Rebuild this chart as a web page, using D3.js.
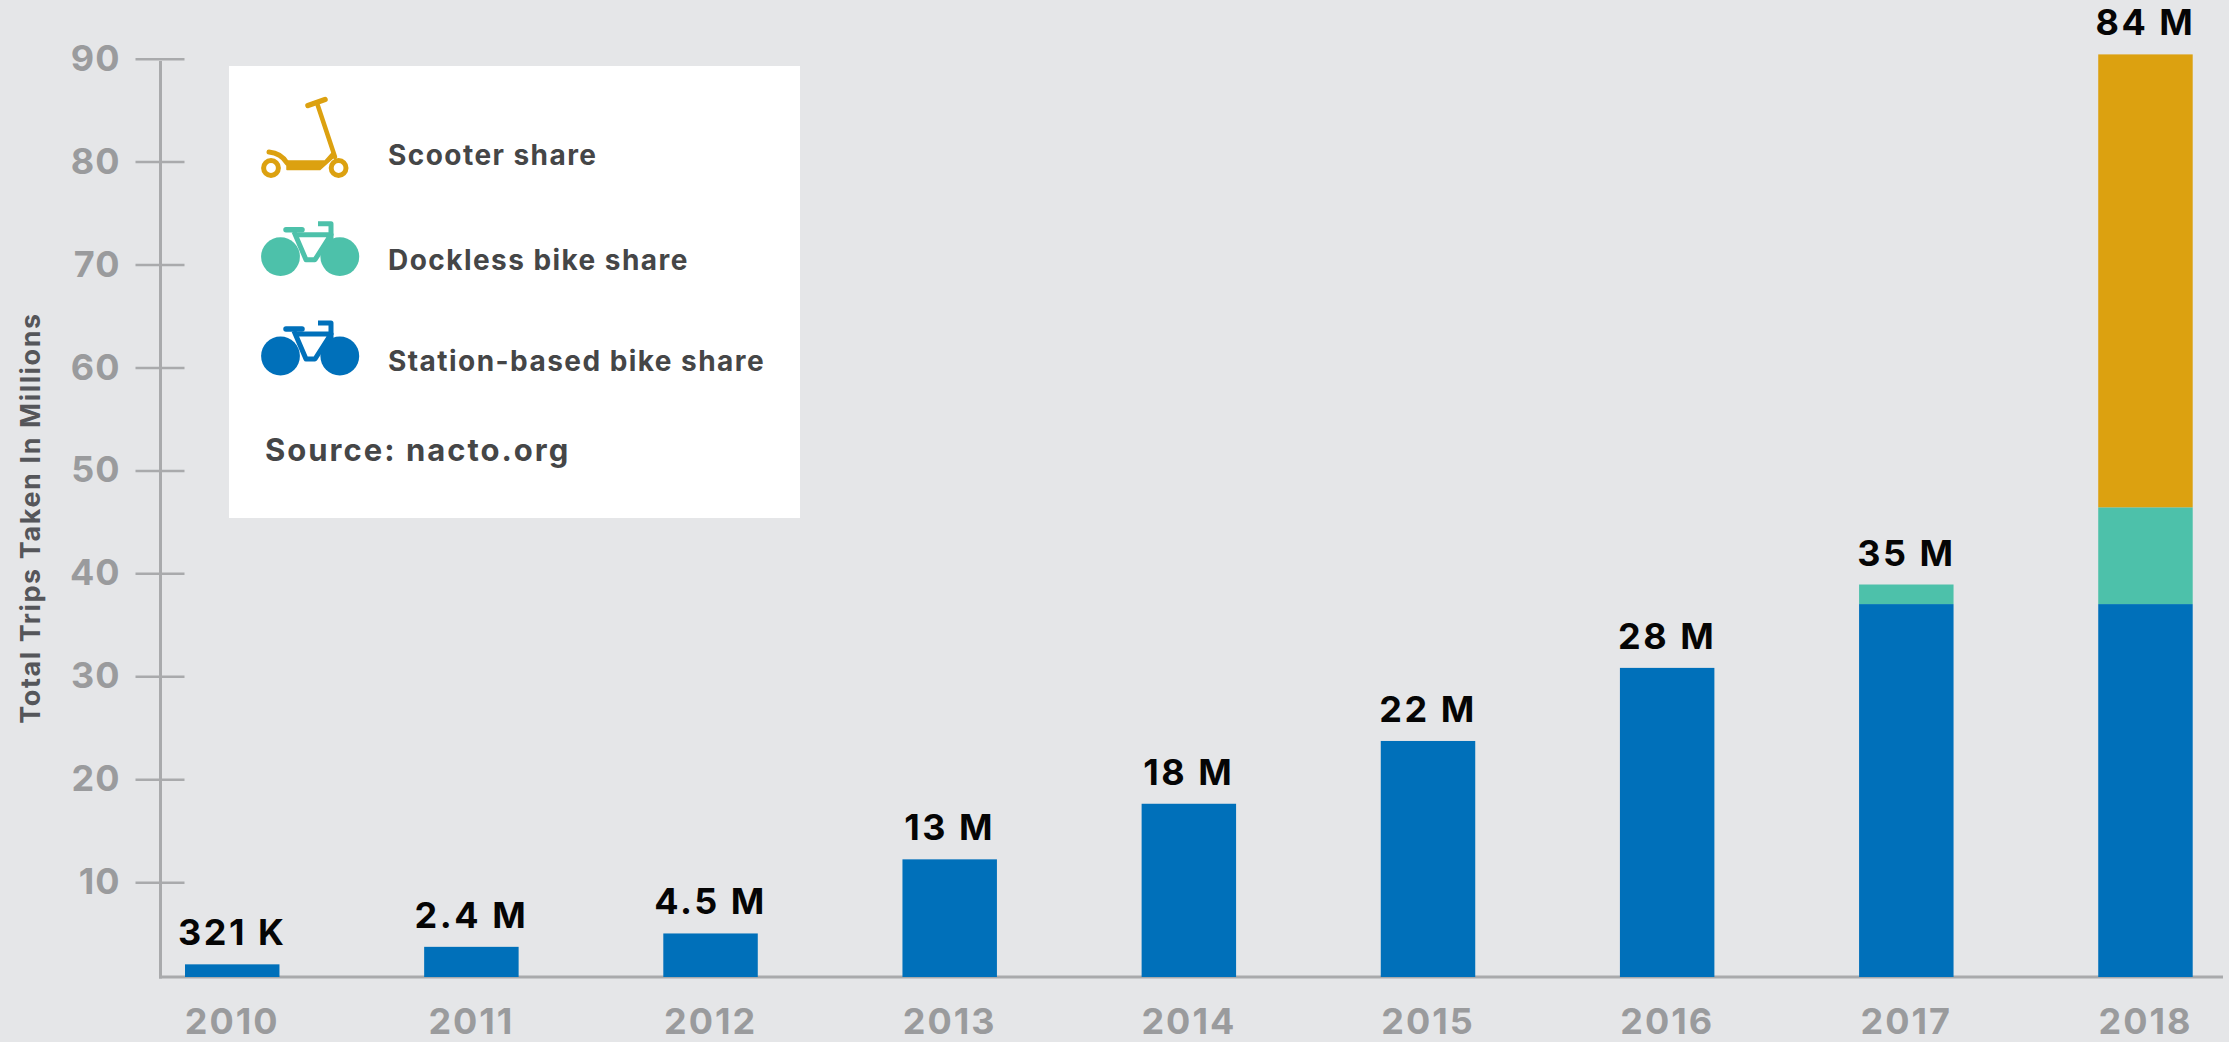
<!DOCTYPE html>
<html><head><meta charset="utf-8">
<script src="https://cdn.jsdelivr.net/npm/d3@7"></script>
<style>html,body{margin:0;padding:0;background:#E5E6E8;overflow:hidden}svg{display:block}text{font-family:Inter,"Open Sans",sans-serif}</style>
</head><body><div id="chart"></div>
<script>
const years = ["2010","2011","2012","2013","2014","2015","2016","2017","2018"];
const stationBased = [1.9,3.6,4.9,12.1,17.5,23.6,30.7,36.9,36.9];
const dockless = [0,0,0,0,0,0,0,1.9,9.4];
const scooter = [0,0,0,0,0,0,0,0,44.0];
const totalLabels = ["321 K","2.4 M","4.5 M","13 M","18 M","22 M","28 M","35 M","84 M"];
const yTicks = [10,20,30,40,50,60,70,80,90];
const seriesKeys = ["station","dockless","scooter"];
const seriesColors = ["#0070BA","#4DC1AA","#DCA110"];
const legendLabels = ["Scooter share","Dockless bike share","Station-based bike share"];

const W = 2229, H = 1042;
const svg = d3.select("#chart").append("svg").attr("width",W).attr("height",H);
svg.append("rect").attr("width",W).attr("height",H).attr("fill","#E5E6E8");

const axisColor = "#A9AAAC", tickText = "#9A9B9D", darkText = "#454647";
const x = d3.scaleBand().domain(years).range([185,2192.7]).paddingInner(0.605).paddingOuter(0);
const y = d3.scaleLinear().domain([0.67,90.3]).range([977,54.4]).clamp(true);
const color = d3.scaleOrdinal().domain(seriesKeys).range(seriesColors);

const table = years.map((yr,i)=>({year:yr,station:stationBased[i],dockless:dockless[i],scooter:scooter[i],label:totalLabels[i]}));
const stacked = d3.stack().keys(seriesKeys)(table);

// axes
const yAxis = d3.axisLeft(y).tickValues(yTicks).tickSize(25).tickPadding(15).tickSizeOuter(0);
const gy = svg.append("g").attr("transform","translate(160.5,1.2)").call(yAxis);
gy.select(".domain").remove();
gy.selectAll(".tick line").attr("x1",24).attr("stroke",axisColor).attr("stroke-width",2.5);
gy.selectAll(".tick text").attr("fill",tickText).attr("font-size",36).attr("font-weight",700)
  .attr("font-family","Inter").attr("x",-40).attr("letter-spacing",1);
svg.append("line").attr("x1",160.5).attr("x2",160.5).attr("y1",y(90)+3.5).attr("y2",y.range()[0]+1.5)
  .attr("stroke",axisColor).attr("stroke-width",3);

const xAxis = d3.axisBottom(x).tickSize(0).tickPadding(31).tickSizeOuter(0);
const gx = svg.append("g").attr("transform",`translate(0,${y.range()[0]})`).call(xAxis);
gx.select(".domain").remove();
gx.selectAll(".tick text").attr("fill",tickText).attr("font-size",36).attr("font-weight",700)
  .attr("font-family","Inter").attr("letter-spacing",2);
svg.append("line").attr("x1",159).attr("x2",2223).attr("y1",y.range()[0]).attr("y2",y.range()[0])
  .attr("stroke",axisColor).attr("stroke-width",3);

// bars
svg.append("g").selectAll("g").data(stacked).join("g").attr("fill",d=>color(d.key))
  .selectAll("rect").data(d=>d.filter(s=>s[1]>s[0])).join("rect")
  .attr("x",d=>x(d.data.year)).attr("width",x.bandwidth())
  .attr("y",d=>y(d[1])).attr("height",d=>y(d[0])-y(d[1]));

// total labels
const totals = years.map((_,i)=>stationBased[i]+dockless[i]+scooter[i]);
svg.append("g").selectAll("text").data(table).join("text")
  .attr("x",d=>x(d.year)+x.bandwidth()/2).attr("y",(d,i)=>y(totals[i])-19)
  .attr("text-anchor","middle").attr("font-size",36).attr("font-weight",700).attr("fill","#050505")
  .attr("letter-spacing",2.5).attr("font-family","Inter").text(d=>d.label);

// y title
svg.append("text").attr("transform","translate(40,518) rotate(-90)").attr("text-anchor","middle")
  .attr("font-size",27).attr("font-weight",700).attr("letter-spacing",1.6).attr("fill","#55565A").text("Total Trips Taken In Millions");

// legend
svg.append("rect").attr("x",229).attr("y",66).attr("width",571).attr("height",452).attr("fill","#fff");
const ly = [165,270,371];
svg.append("g").selectAll("text").data(legendLabels).join("text")
  .attr("x",388).attr("y",(d,i)=>ly[i]).attr("font-size",28).attr("font-weight",700).attr("letter-spacing",1.45).attr("fill",darkText).text(d=>d);
svg.append("text").attr("x",265).attr("y",461).attr("font-size",31).attr("font-weight",700).attr("letter-spacing",2).attr("fill",darkText).text("Source: nacto.org");

// scooter icon
const sc = svg.append("g").attr("fill","none").attr("stroke",color("scooter")).attr("stroke-linecap","round").attr("stroke-linejoin","round");
sc.append("circle").attr("cx",271).attr("cy",168).attr("r",7.4).attr("stroke-width",5);
sc.append("circle").attr("cx",338.6).attr("cy",168).attr("r",7.4).attr("stroke-width",5);
sc.append("path").attr("d","M317 103 L335 157").attr("stroke-width",4.5);
sc.append("path").attr("d","M308 105.500 L325 99.500").attr("stroke-width",5.5);
sc.append("path").attr("d","M269 152 Q281 153 287 163").attr("stroke-width",5);
sc.append("path").attr("d","M287 161 L325 161 L332 153 L334 157 L320 169.500 L287 169.500 Z").attr("fill",color("scooter")).attr("stroke-width",1.5);

// bike icons
function bike(cy,c){
  const g = svg.append("g").attr("transform",`translate(0,${cy})`);
  g.selectAll("circle").data([280.5,339.8]).join("circle").attr("cx",d=>d).attr("cy",0).attr("r",19.4).attr("fill",c);
  const p = g.append("g").attr("fill","none").attr("stroke",c).attr("stroke-width",5).attr("stroke-linejoin","round");
  p.append("path").attr("d","M286 -27 L302 -27").attr("stroke-width",5.5).attr("stroke-linecap","round");
  p.append("path").attr("d","M318 -33 L331 -33 L331 -14").attr("stroke-width",5);
  p.append("path").attr("d","M294 -25 L306 3 L315 3 L331 -22 L295 -22");
}
bike(256.7,color("dockless"));
bike(356,color("station"));
</script></body></html>
